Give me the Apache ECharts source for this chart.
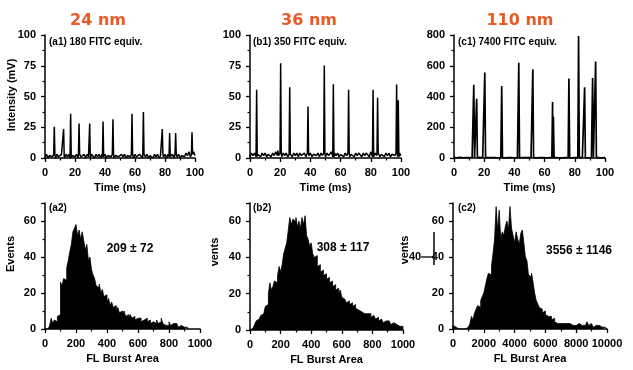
<!DOCTYPE html>
<html><head><meta charset="utf-8">
<script src="https://cdn.jsdelivr.net/npm/echarts@6/dist/echarts.min.js"></script>
<style>html,body{margin:0;padding:0;background:#fff}#c{width:633px;height:370px}</style>
</head><body><div id="c"></div>
<script>
// ---- Top row: spike traces (time in ms, intensity) ----
const a1Times = [6.2, 12.4, 17.1, 22.7, 29.8, 38.7, 45.3, 58.0, 65.6, 78.2, 83.1, 87.1, 98.0];
const a1Heights = [25.4, 23.5, 36, 28, 28, 29.7, 31.4, 36, 37.3, 23.5, 20.3, 20.3, 21];
const a1Base = [1,3,0,2,3,1,3,0,3,1, 0,3,2,0,3,1,3,0,2,3, 1,3,0,3,1,2,3,0,3,1, 0,3,2,0,3,1,3,0,3,1,
  3,0,2,3,1,3,0,2,3,1, 0,3,1,3,0,2,3,1,3,0, 3,1,0,3,2,0,3,1,3,0, 2,3,0,3,1,3,0,2,3,1,
  3,0,3,1,2,3,0,3,1,3, 0,2,3,1,4,2,5,1,3,5, 2];

const b1Times = [4.4, 18.5, 20.3, 26.3, 38.4, 49.2, 55.2, 65.3, 81.5, 84.5, 97.1, 98.2];
const b1Heights = [55.4, 6, 77, 57.6, 41.9, 75.1, 60, 55.4, 55.4, 49, 59.7, 47];
const b1Base = [1,4,2,4,1,3,4,1,4,2, 4,1,3,4,1,4,2,5,6,2, 4,1,4,2,4,1,3,4,1,4, 2,4,1,4,2,3,4,1,4,2,
  4,1,3,4,2,4,1,4,2,4, 1,4,2,3,5,1,4,2,4,1, 3,4,1,4,2,4,1,3,4,1, 4,2,4,5,1,4,2,4,5,1,
  5,4,1,4,2,4,1,3,4,1, 4,2,4,1,3,4,2,4,1,4, 2];

const c1Times = [13.1, 15.0, 20.4, 31.6, 42.9, 52.2, 65.3, 65.8, 76.1, 82.5, 86.5, 91.8, 93.8];
const c1Heights = [476, 385, 556, 469, 620, 577, 365, 270, 517, 793, 460, 521, 627];
const c1Base = [2,3,1,2,4,2,1,3,2,1, 2,3,1,2,3,1,2,4,2,1, 3,2,1,2,3,2,1,2,3,1, 2,1,3,2,1,2,3,1,2,2,
  1,3,2,1,2,3,1,2,2,3, 1,2,3,1,2,1,3,2,1,2, 3,1,2,2,1,3,2,1,2,3, 1,2,1,3,2,1,2,3,1,2,
  2,1,3,2,1,2,3,1,2,1, 3,2,1,2,3,1,2,2,1,3, 2];

// ---- Bottom row: histograms of FL burst area ----
const a2BinWidth = 10;
const a2Counts = [0,0,0,2,6,3,5,4,7,8, 26,24,28,27,34,38,43,47,54,56, 58,52,55,50,54,49,44,47,38,40,
  33,30,28,24,23,25,20,22,18,19, 15,17,13,15,12,13,10,12,9,10, 8,10,7,8,6,8,6,7,5,6,
  5,6,4,5,4,6,4,5,3,4, 4,3,5,3,4,6,3,2,3,2, 4,2,3,2,3,2,1,2,2,1, 2,1];

const b2BinWidth = 10;
const b2Counts = [0,1,1,3,5,6,7,8,9,10, 13,14,20,26,22,24,27,26,30,35, 32,36,42,45,48,55,62,58,61,60,
  62,57,60,56,62,58,63,52,50,46, 48,42,40,41,35,36,32,33,30,31, 28,29,26,27,24,25,22,23,20,22,
  18,17,16,15,16,14,15,13,14,12, 11,12,10,11,9,10,9,8,9,7, 8,7,6,7,5,6,5,4,5,4, 5,4,3,4,3,3,4,2,3,2];

const c2BinWidth = 100;
const c2Counts = [2,1,0,0,0,0,0,0,0,1, 2,3,7,5,9,11,13,12,16,18, 20,24,28,31,30,35,42,50,68,55,
  66,50,54,52,57,60,55,68,56,52, 48,54,50,47,53,55,48,40,38,30, 29,31,26,20,16,14,12,11,9,10,
  8,7,6,7,5,6,4,3,4,3, 2,3,2,3,2,3,2,2,3,2, 2,3,2,2,3,2,2,4,2,3, 2,1,2,1,2,2,1,2,1,1];

const panelTitles = ['24 nm', '36 nm', '110 nm'];
const topNotes = ['(a1) 180 FITC equiv.', '(b1) 350 FITC equiv.', '(c1) 7400 FITC equiv.'];
const bottomNotes = ['(a2)', '(b2)', '(c2)'];
const meanNotes = ['209 \u00b1 72', '308 \u00b1 117', '3556 \u00b1 1146'];

function buildTrace(base, times, heights, w) {
  const pts = [];
  base.forEach((v, i) => { if (!times.some(t => Math.abs(t - i) < w + 0.05)) pts.push([i, v]); });
  times.forEach((t, k) => {
    const b = base[Math.round(t)];
    pts.push([t - w, b], [t, heights[k]], [t + w, b]);
  });
  pts.sort((p, q) => p[0] - q[0]);
  return pts;
}
// histogram as bin edges: each bin contributes its left and right edge at the bin count
function buildHist(counts, bw) {
  const pts = [[0, 0]];
  counts.forEach((c, i) => { pts.push([i * bw, c], [(i + 1) * bw, c]); });
  pts.push([counts.length * bw, 0]);
  return pts;
}

const FONT = 'Liberation Sans, Arial, sans-serif';
const axisLine = { show: true, lineStyle: { color: '#000', width: 1.5 } };
const axisTick = { show: true, length: 4, lineStyle: { color: '#000', width: 1.3 } };
const minorTick = { show: true, splitNumber: 2, length: 2.5, lineStyle: { color: '#000', width: 1.2 } };
const lbl = (m) => ({ color: '#000', fontWeight: 'bold', fontSize: 11, fontFamily: FONT, margin: m,
  formatter: (v) => String(v) });

const grids = [
  { left: 45, top: 35, width: 150, height: 123 },
  { left: 250, top: 35, width: 151, height: 123 },
  { left: 454, top: 35, width: 151, height: 123 },
  { left: 45, top: 203, width: 155, height: 126 },
  { left: 250, top: 203, width: 153, height: 127 },
  { left: 453, top: 203, width: 154, height: 126 }
];

function xAx(i, max, interval, name) {
  return { type: 'value', gridIndex: i, min: 0, max: max, interval: interval,
    axisLine, axisTick, minorTick, splitLine: { show: false }, axisLabel: lbl(9),
    name: name, nameLocation: 'middle', nameGap: 24,
    nameTextStyle: { color: '#000', fontWeight: 'bold', fontSize: 11, fontFamily: FONT } };
}
function yAx(i, max, interval, hideMax) {
  return { type: 'value', gridIndex: i, min: 0, max: max, interval: interval,
    axisLine, axisTick, minorTick, splitLine: { show: false },
    axisLabel: Object.assign(lbl(9), { showMaxLabel: !hideMax }) };
}

const graphic = [];
const titleX = [98, 309, 520];
panelTitles.forEach((t, i) => graphic.push({ type: 'text', x: titleX[i], y: 21,
  style: { text: t, fill: '#EA5A24', font: 'bold 16px DejaVu Sans', align: 'center', verticalAlign: 'middle' } }));
const noteX = [49, 253, 458];
topNotes.forEach((t, i) => graphic.push({ type: 'text', x: noteX[i], y: 42,
  style: { text: t, fill: '#000', font: 'bold 10px ' + FONT, align: 'left', verticalAlign: 'middle' } }));
bottomNotes.forEach((t, i) => graphic.push({ type: 'text', x: noteX[i], y: 208,
  style: { text: t, fill: '#000', font: 'bold 10px ' + FONT, align: 'left', verticalAlign: 'middle' } }));
const meanPos = [[130, 249], [343, 248], [579, 251]];
meanNotes.forEach((t, i) => graphic.push({ type: 'text', x: meanPos[i][0], y: meanPos[i][1],
  style: { text: t, fill: '#000', font: 'bold 12px ' + FONT, align: 'center', verticalAlign: 'middle' } }));
const yNames = [['Intensity (mV)', 12, 95], ['Events', 11, 254], ['vents', 215, 252], ['vents', 405, 250]];
yNames.forEach(n => graphic.push({ type: 'text', x: n[1], y: n[2], rotation: Math.PI / 2,
  style: { text: n[0], fill: '#000', font: 'bold 11px ' + FONT, align: 'center', verticalAlign: 'middle' } }));
// stray fragment of a neighbouring axis seen in the reference collage
graphic.push({ type: 'text', x: 415, y: 257, style: { text: '40', fill: '#000', font: 'bold 11px ' + FONT, align: 'center', verticalAlign: 'middle' } });
graphic.push({ type: 'line', shape: { x1: 434, y1: 232, x2: 434, y2: 265 }, style: { stroke: '#000', lineWidth: 1.5 } });
graphic.push({ type: 'line', shape: { x1: 421, y1: 257, x2: 434, y2: 257 }, style: { stroke: '#000', lineWidth: 1.3 } });

const traceStyle = { color: '#000', width: 1.5 };
const histSeries = (i, counts, bw) => ({ type: 'line', xAxisIndex: i, yAxisIndex: i, data: buildHist(counts, bw),
  showSymbol: false, lineStyle: { color: '#000', width: 0.8 }, areaStyle: { color: '#000', opacity: 1 } });
const option = {
  animation: false,
  backgroundColor: '#fff',
  grid: grids,
  xAxis: [
    xAx(0, 100, 20, 'Time (ms)'), xAx(1, 100, 20, 'Time (ms)'), xAx(2, 100, 20, 'Time (ms)'),
    xAx(3, 1000, 200, 'FL Burst Area'), xAx(4, 1000, 200, 'FL Burst Area'), xAx(5, 10000, 2000, 'FL Burst Area')
  ],
  yAxis: [
    yAx(0, 100, 25), yAx(1, 100, 25), yAx(2, 800, 200),
    yAx(3, 70, 20, true), yAx(4, 70, 20, true), yAx(5, 70, 20, true)
  ],
  series: [
    { type: 'line', xAxisIndex: 0, yAxisIndex: 0, data: buildTrace(a1Base, a1Times, a1Heights, 0.4), showSymbol: false, lineStyle: traceStyle },
    { type: 'line', xAxisIndex: 1, yAxisIndex: 1, data: buildTrace(b1Base, b1Times, b1Heights, 0.4), showSymbol: false, lineStyle: traceStyle },
    { type: 'line', xAxisIndex: 2, yAxisIndex: 2, data: buildTrace(c1Base, c1Times, c1Heights, 0.5), showSymbol: false, lineStyle: { color: '#000', width: 1.7 } },
    histSeries(3, a2Counts, a2BinWidth),
    histSeries(4, b2Counts, b2BinWidth),
    histSeries(5, c2Counts, c2BinWidth)
  ],
  graphic: graphic
};
const chart = echarts.init(document.getElementById('c'), null, { renderer: 'canvas' });
chart.setOption(option);
</script></body></html>
